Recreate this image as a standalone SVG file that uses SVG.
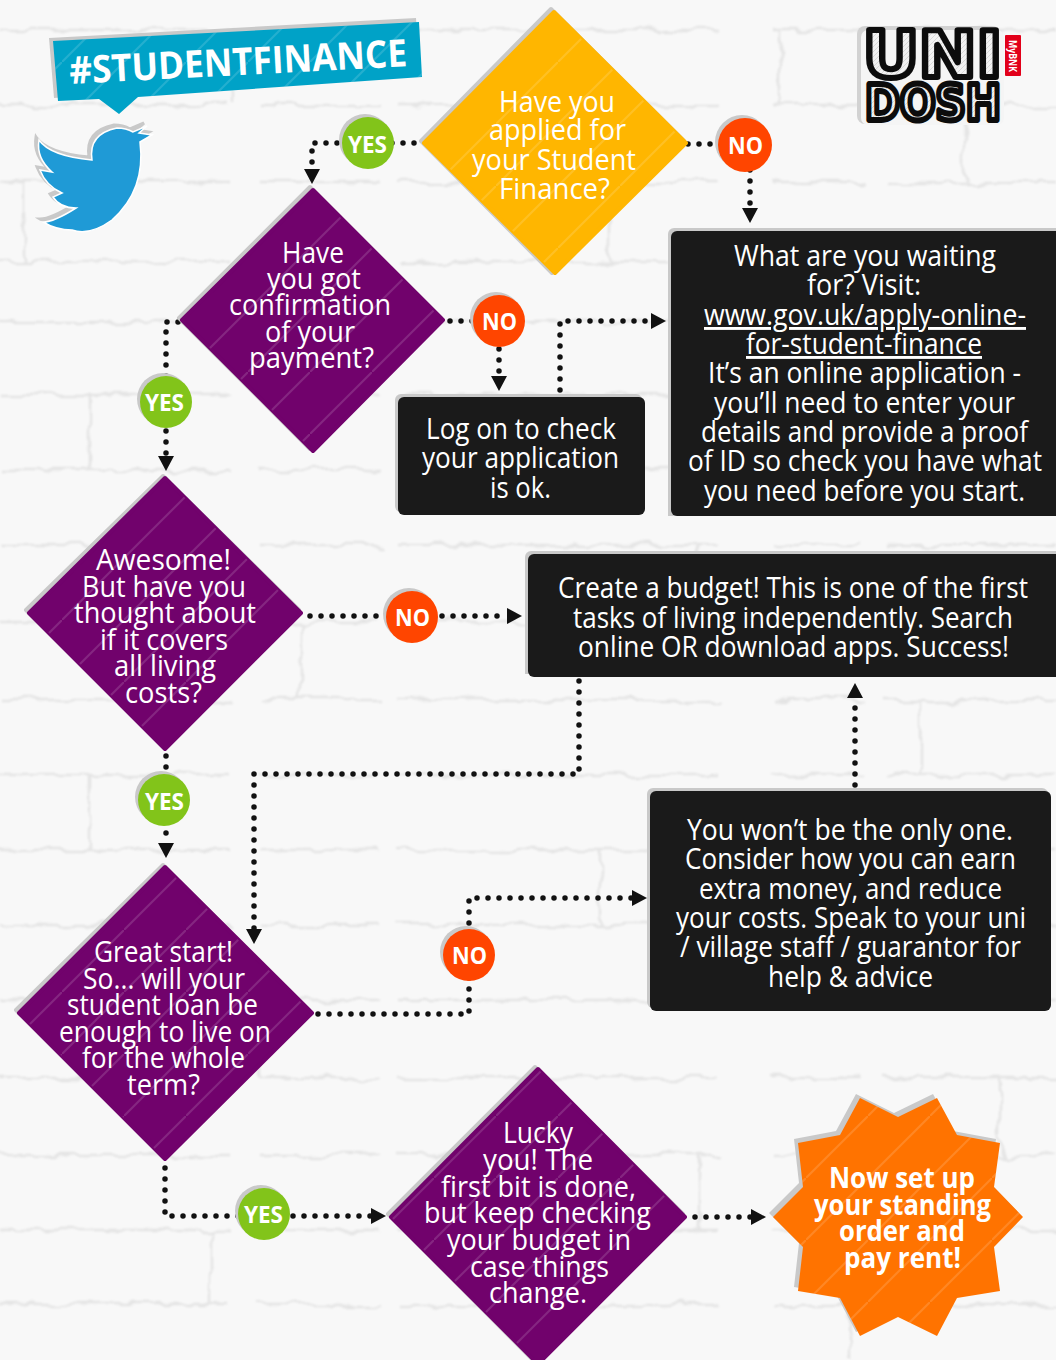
<svg xmlns="http://www.w3.org/2000/svg" width="1056" height="1360" viewBox="0 0 1056 1360">
<style>
text{font-family:"Open Sans","Noto Sans","Liberation Sans",sans-serif;fill:#fff}
.t{font-size:29px}
.s{font-size:29px;font-weight:700}
.u{text-decoration:underline}
.b{font-size:24px;font-weight:700}
.sh{fill:#c9c9c9;stroke:#c9c9c9;stroke-width:4;stroke-linejoin:round}
.bs{fill:#c9c9c9}
.y{fill:#ffb600;stroke:#ffb600;stroke-width:4;stroke-linejoin:round}
.p{fill:#71026c;stroke:#71026c;stroke-width:4;stroke-linejoin:round}
.o{fill:#ff7300}
.st{fill:url(#stripes)}
.box{fill:#1a1a1a}
.g{fill:#82c41a}
.r{fill:#ff4500}
.c{fill:none;stroke:#111;stroke-width:5.5;stroke-linecap:round;stroke-linejoin:round;stroke-dasharray:0 11;marker-end:url(#a)}
.m{fill:none;stroke:#e4e4e4;stroke-width:2.5;stroke-dasharray:230 30 120 18 320 55 90 22}
.logo{font-family:"DejaVu Sans","Liberation Sans",sans-serif;font-weight:700;fill:url(#hatch);stroke:#0c0c0c;stroke-width:6;stroke-linejoin:round}
</style>
<defs>
<pattern id="stripes" patternUnits="userSpaceOnUse" width="62" height="62"><path d="M-2,64 L64,-2" stroke="#fff" stroke-opacity=".14" stroke-width="2"/></pattern>
<pattern id="hatch" patternUnits="userSpaceOnUse" width="5" height="5"><rect width="5" height="5" fill="#f2f2f2"/><path d="M-1,6 L6,-1" stroke="#d8d8d8" stroke-width="1"/></pattern>
<marker id="a" markerUnits="userSpaceOnUse" markerWidth="18" markerHeight="18" refX="1" refY="8" orient="auto"><path d="M0,0 L15,8 L0,16 Z" fill="#111"/></marker>
<filter id="rough" x="-5%" y="-5%" width="110%" height="110%"><feTurbulence type="fractalNoise" baseFrequency="0.035" numOctaves="3" seed="7"/><feDisplacementMap in="SourceGraphic" scale="14"/><feGaussianBlur stdDeviation="1"/></filter>
</defs>
<rect id="wall" width="1056" height="1360" fill="#f8f8f8"/>
<g id="bricks" class="m" filter="url(#rough)">
<path d="M0,30 H1056 M0,105 H1056 M0,182 H1056 M0,262 H1056 M0,322 H1056 M0,395 H1056 M0,470 H1056 M0,545 H1056 M0,622 H1056 M0,700 H1056 M0,775 H1056 M0,850 H1056 M0,925 H1056 M0,1000 H1056 M0,1078 H1056 M0,1155 H1056 M0,1230 H1056 M0,1305 H1056"/>
<path d="M235,30 V105 M780,30 V105 M24,182 V262 M610,182 V262 M965,105 V182 M300,322 V395 M90,395 V470 M700,545 V622 M300,622 V700 M920,700 V775 M90,775 V850 M600,850 V925 M260,1000 V1078 M1000,1078 V1155 M700,1155 V1230 M210,1230 V1305 M850,1305 V1360"/>
</g>

<g id="connectors">
<path class="c" d="M425,143 H312 V170"/>
<path class="c" d="M688,144 H750 V209"/>
<path class="c" d="M178,322 H166 V457"/>
<path class="c" d="M450,321 H499 V377"/>
<path class="c" d="M560,390 V321 H652"/>
<path class="c" d="M310,616 H508"/>
<path class="c" d="M166,756 V844"/>
<path class="c" d="M579,681 V774 H254 V930"/>
<path class="c" d="M855,785 V697"/>
<path class="c" d="M318,1014 H469 V898 H633"/>
<path class="c" d="M165,1168 V1216 H372"/>
<path class="c" d="M695,1217 H752"/>
</g>

<g id="hashtag">
<polygon class="bs" points="49,38 416,18 419,72 54,98"/>
<polygon fill="#00a2c7" points="53,41 419,22 422,77 138,97 119,114 99,99 58,101"/>
<polygon class="st" points="53,41 419,22 422,77 138,97 119,114 99,99 58,101"/>
<text transform="translate(70,84) rotate(-3)" font-size="38" font-weight="700" textLength="338" lengthAdjust="spacingAndGlyphs">#STUDENTFINANCE</text>
</g>

<g id="twitter">
<path class="bs" transform="translate(-3,-3)" stroke="#c9c9c9" stroke-width="3" d="M39,140 Q50,156 92,160 Q88,134 117,128 Q126,128 133,132 L147,126 L139,133 L152,135 L140,142 Q146,190 112,220 Q90,236 72,230 Q56,230 43,222 Q54,222 76,208 Q60,208 53,197 L62,193 Q46,186 40,170 L52,172 Q36,158 39,140 Z"/>
<path fill="#1f9ad6" stroke="#fff" stroke-width="1.5" d="M39,140 Q50,156 92,160 Q88,134 117,128 Q126,128 133,132 L147,126 L139,133 L152,135 L140,142 Q146,190 112,220 Q90,236 72,230 Q56,230 43,222 Q54,222 76,208 Q60,208 53,197 L62,193 Q46,186 40,170 L52,172 Q36,158 39,140 Z"/>
</g>

<g id="unidosh">
<rect x="857" y="26" width="143" height="98" rx="8" fill="#d2d2d2"/>
<rect x="861" y="30" width="143" height="95" rx="7" fill="#f5f5f5"/>
<text class="logo" x="863" y="77" font-size="64" textLength="139" lengthAdjust="spacingAndGlyphs">UNI</text>
<text class="logo" x="865" y="120" font-size="50" textLength="136" lengthAdjust="spacingAndGlyphs">DOSH</text>
<rect x="1005" y="35" width="16" height="41" rx="1" fill="#e2001a"/>
<text transform="translate(1009,40) rotate(90)" font-size="10" font-weight="700" textLength="32" lengthAdjust="spacingAndGlyphs">MyBNK</text>
</g>

<g id="q1">
<polygon class="sh" points="551,9 684,141 552,273 421,141"/>
<polygon class="y" points="554,12 686,143 555,273 424,143"/>
<polygon class="st" points="554,12 686,143 555,273 424,143"/>
<text class="t" x="499" y="112" textLength="116" lengthAdjust="spacingAndGlyphs">Have you</text>
<text class="t" x="489" y="140" textLength="137" lengthAdjust="spacingAndGlyphs">applied for</text>
<text class="t" x="472" y="170" textLength="164" lengthAdjust="spacingAndGlyphs">your Student</text>
<text class="t" x="499" y="199" textLength="111" lengthAdjust="spacingAndGlyphs">Finance?</text>
</g>

<g id="q2">
<polygon class="sh" points="310,187 441,318 310,449 179,318"/>
<polygon class="p" points="313,190 443,320 313,451 182,320"/>
<polygon class="st" points="313,190 443,320 313,451 182,320"/>
<text class="t" x="282" y="263" textLength="62" lengthAdjust="spacingAndGlyphs">Have</text>
<text class="t" x="267" y="289" textLength="94" lengthAdjust="spacingAndGlyphs">you got</text>
<text class="t" x="229" y="315" textLength="162" lengthAdjust="spacingAndGlyphs">confirmation</text>
<text class="t" x="265" y="342" textLength="90" lengthAdjust="spacingAndGlyphs">of your</text>
<text class="t" x="249" y="368" textLength="125" lengthAdjust="spacingAndGlyphs">payment?</text>
</g>

<g id="q3">
<polygon class="sh" points="163,476 299,610 163,746 26,610"/>
<polygon class="p" points="165,478 301,613 165,749 29,613"/>
<polygon class="st" points="165,478 301,613 165,749 29,613"/>
<text class="t" x="96" y="570" textLength="135" lengthAdjust="spacingAndGlyphs">Awesome!</text>
<text class="t" x="82" y="597" textLength="164" lengthAdjust="spacingAndGlyphs">But have you</text>
<text class="t" x="74" y="623" textLength="182" lengthAdjust="spacingAndGlyphs">thought about</text>
<text class="t" x="100" y="650" textLength="128" lengthAdjust="spacingAndGlyphs">if it covers</text>
<text class="t" x="114" y="676" textLength="102" lengthAdjust="spacingAndGlyphs">all living</text>
<text class="t" x="125" y="703" textLength="77" lengthAdjust="spacingAndGlyphs">costs?</text>
</g>

<g id="q4">
<polygon class="sh" points="163,865 309,1010 163,1156 16,1010"/>
<polygon class="p" points="165,867 312,1013 165,1159 19,1013"/>
<polygon class="st" points="165,867 312,1013 165,1159 19,1013"/>
<text class="t" x="94" y="962" textLength="139" lengthAdjust="spacingAndGlyphs">Great start!</text>
<text class="t" x="83" y="989" textLength="162" lengthAdjust="spacingAndGlyphs">So... will your</text>
<text class="t" x="67" y="1015" textLength="191" lengthAdjust="spacingAndGlyphs">student loan be</text>
<text class="t" x="59" y="1042" textLength="212" lengthAdjust="spacingAndGlyphs">enough to live on</text>
<text class="t" x="82" y="1068" textLength="163" lengthAdjust="spacingAndGlyphs">for the whole</text>
<text class="t" x="127" y="1095" textLength="73" lengthAdjust="spacingAndGlyphs">term?</text>
</g>

<g id="q5">
<polygon class="sh" points="535,1067 683,1214 537,1360 533,1360 388,1214"/>
<polygon class="p" points="538,1069 685,1217 542,1360 534,1360 391,1217"/>
<polygon class="st" points="538,1069 685,1217 542,1360 534,1360 391,1217"/>
<text class="t" x="503" y="1143" textLength="70" lengthAdjust="spacingAndGlyphs">Lucky</text>
<text class="t" x="483" y="1170" textLength="110" lengthAdjust="spacingAndGlyphs">you! The</text>
<text class="t" x="441" y="1197" textLength="195" lengthAdjust="spacingAndGlyphs">first bit is done,</text>
<text class="t" x="424" y="1223" textLength="227" lengthAdjust="spacingAndGlyphs">but keep checking</text>
<text class="t" x="447" y="1250" textLength="184" lengthAdjust="spacingAndGlyphs">your budget in</text>
<text class="t" x="470" y="1277" textLength="139" lengthAdjust="spacingAndGlyphs">case things</text>
<text class="t" x="489" y="1303" textLength="98" lengthAdjust="spacingAndGlyphs">change.</text>
</g>

<g id="visit">
<path class="bs" d="M668,516 V234 a6,6 0 0 1 6,-6 H1056 V516 Z"/>
<path class="box" d="M671,510 V237 a6,6 0 0 1 6,-6 H1056 V516 H677 a6,6 0 0 1 -6,-6 Z"/>
<text class="t" x="734" y="266" textLength="262" lengthAdjust="spacingAndGlyphs">What are you waiting</text>
<text class="t" x="807" y="295" textLength="114" lengthAdjust="spacingAndGlyphs">for? Visit:</text>
<text class="t u" x="704" y="325" textLength="322" lengthAdjust="spacingAndGlyphs">www.gov.uk/apply-online-</text>
<text class="t u" x="746" y="354" textLength="236" lengthAdjust="spacingAndGlyphs">for-student-finance</text>
<text class="t" x="708" y="383" textLength="313" lengthAdjust="spacingAndGlyphs">It’s an online application -</text>
<text class="t" x="714" y="413" textLength="301" lengthAdjust="spacingAndGlyphs">you’ll need to enter your</text>
<text class="t" x="701" y="442" textLength="327" lengthAdjust="spacingAndGlyphs">details and provide a proof</text>
<text class="t" x="688" y="471" textLength="354" lengthAdjust="spacingAndGlyphs">of ID so check you have what</text>
<text class="t" x="704" y="501" textLength="321" lengthAdjust="spacingAndGlyphs">you need before you start.</text>
</g>

<g id="logon">
<rect class="bs" x="395" y="394" width="247" height="118" rx="6"/>
<rect class="box" x="398" y="397" width="247" height="118" rx="6"/>
<text class="t" x="426" y="439" textLength="190" lengthAdjust="spacingAndGlyphs">Log on to check</text>
<text class="t" x="422" y="468" textLength="197" lengthAdjust="spacingAndGlyphs">your application</text>
<text class="t" x="490" y="498" textLength="61" lengthAdjust="spacingAndGlyphs">is ok.</text>
</g>

<g id="budget">
<path class="bs" d="M525,674 V557 a6,6 0 0 1 6,-6 H1056 V674 Z"/>
<path class="box" d="M528,671 V560 a6,6 0 0 1 6,-6 H1056 V677 H534 a6,6 0 0 1 -6,-6 Z"/>
<text class="t" x="558" y="598" textLength="470" lengthAdjust="spacingAndGlyphs">Create a budget! This is one of the first</text>
<text class="t" x="573" y="628" textLength="440" lengthAdjust="spacingAndGlyphs">tasks of living independently. Search</text>
<text class="t" x="578" y="657" textLength="431" lengthAdjust="spacingAndGlyphs">online OR download apps. Success!</text>
</g>

<g id="earn">
<rect class="bs" x="647" y="788" width="401" height="220" rx="6"/>
<rect class="box" x="650" y="791" width="401" height="220" rx="6"/>
<text class="t" x="687" y="840" textLength="326" lengthAdjust="spacingAndGlyphs">You won’t be the only one.</text>
<text class="t" x="685" y="869" textLength="331" lengthAdjust="spacingAndGlyphs">Consider how you can earn</text>
<text class="t" x="699" y="899" textLength="303" lengthAdjust="spacingAndGlyphs">extra money, and reduce</text>
<text class="t" x="676" y="928" textLength="350" lengthAdjust="spacingAndGlyphs">your costs. Speak to your uni</text>
<text class="t" x="680" y="957" textLength="341" lengthAdjust="spacingAndGlyphs">/ village staff / guarantor for</text>
<text class="t" x="768" y="987" textLength="165" lengthAdjust="spacingAndGlyphs">help &amp; advice</text>
</g>

<g id="rent">
<polygon class="bs" transform="translate(-4,-4)" points="860,1098 898,1117 937,1098 957,1135 1000,1143 994,1187 1023,1217 994,1247 1000,1291 957,1298 937,1336 898,1317 860,1336 840,1298 798,1291 803,1247 773,1217 803,1187 798,1143 840,1135"/>
<polygon class="o" points="860,1098 898,1117 937,1098 957,1135 1000,1143 994,1187 1023,1217 994,1247 1000,1291 957,1298 937,1336 898,1317 860,1336 840,1298 798,1291 803,1247 773,1217 803,1187 798,1143 840,1135"/>
<polygon class="st" points="860,1098 898,1117 937,1098 957,1135 1000,1143 994,1187 1023,1217 994,1247 1000,1291 957,1298 937,1336 898,1317 860,1336 840,1298 798,1291 803,1247 773,1217 803,1187 798,1143 840,1135"/>
<text class="s" x="829" y="1188" textLength="146" lengthAdjust="spacingAndGlyphs">Now set up</text>
<text class="s" x="814" y="1215" textLength="177" lengthAdjust="spacingAndGlyphs">your standing</text>
<text class="s" x="839" y="1241" textLength="126" lengthAdjust="spacingAndGlyphs">order and</text>
<text class="s" x="844" y="1268" textLength="117" lengthAdjust="spacingAndGlyphs">pay rent!</text>
</g>

<g id="yes1"><circle class="bs" cx="365" cy="140" r="26"/><circle class="g" cx="368" cy="143" r="26"/><text class="b" x="348" y="153" textLength="39" lengthAdjust="spacingAndGlyphs">YES</text></g>
<g id="no1"><circle class="bs" cx="742" cy="142" r="27"/><circle class="r" cx="745" cy="145" r="27"/><text class="b" x="728" y="154" textLength="35" lengthAdjust="spacingAndGlyphs">NO</text></g>
<g id="yes2"><circle class="bs" cx="163" cy="399" r="26"/><circle class="g" cx="166" cy="402" r="26"/><text class="b" x="145" y="411" textLength="39" lengthAdjust="spacingAndGlyphs">YES</text></g>
<g id="no2"><circle class="bs" cx="496" cy="318" r="26"/><circle class="r" cx="499" cy="321" r="26"/><text class="b" x="482" y="330" textLength="35" lengthAdjust="spacingAndGlyphs">NO</text></g>
<g id="no3"><circle class="bs" cx="409" cy="614" r="26"/><circle class="r" cx="412" cy="617" r="26"/><text class="b" x="395" y="626" textLength="35" lengthAdjust="spacingAndGlyphs">NO</text></g>
<g id="yes3"><circle class="bs" cx="161" cy="797" r="26"/><circle class="g" cx="164" cy="800" r="26"/><text class="b" x="145" y="810" textLength="39" lengthAdjust="spacingAndGlyphs">YES</text></g>
<g id="no4"><circle class="bs" cx="466" cy="952" r="26"/><circle class="r" cx="469" cy="955" r="26"/><text class="b" x="452" y="964" textLength="35" lengthAdjust="spacingAndGlyphs">NO</text></g>
<g id="yes4"><circle class="bs" cx="261" cy="1211" r="26"/><circle class="g" cx="264" cy="1214" r="26"/><text class="b" x="244" y="1223" textLength="39" lengthAdjust="spacingAndGlyphs">YES</text></g>
</svg>
